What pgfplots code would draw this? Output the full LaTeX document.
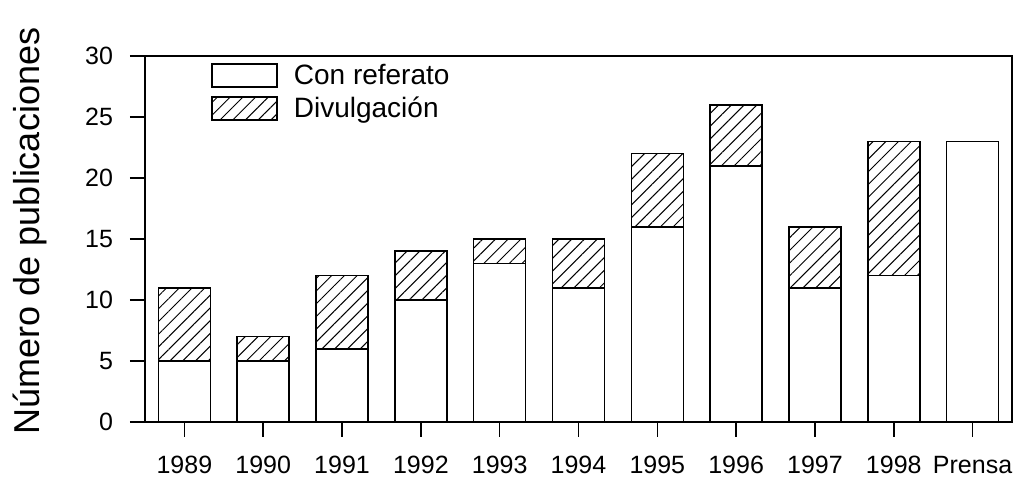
\documentclass[border=0pt]{standalone}
\usepackage{fontspec}
\setmainfont{Liberation Sans}
\usepackage{pgfplots}
\pgfplotsset{compat=1.18}
\usetikzlibrary{patterns.meta}

\begin{document}
\begin{tikzpicture}
\begin{axis}[
  at={(0,0)}, anchor=south west,
  scale only axis, width=433.5pt, height=183pt,
  ybar stacked, bar width=26pt,
  xmin=-0.5, xmax=10.5, ymin=0, ymax=30,
  xtick={0,1,2,3,4,5,6,7,8,9,10},
  xticklabels={1989,1990,1991,1992,1993,1994,1995,1996,1997,1998,Prensa},
  ytick={0,5,10,15,20,25,30},
  tick align=outside, major tick length=7.5pt,
  xtick pos=bottom, ytick pos=left,
  axis line style={line width=0.8pt},
  tick style={line width=0.8pt, black},
  ticklabel style={font=\fontsize{12.5}{14}\selectfont},
  xticklabel style={yshift=-6pt},
  yticklabel style={xshift=-5pt},
  /pgf/number format/assume math mode=true,
  ylabel={Número de publicaciones},
  ylabel style={font=\fontsize{18}{21}\selectfont, at={(axis description cs:-0.1326,0.522)}, anchor=center},
  legend style={draw=none, fill=none, at={(axis description cs:0.076,0.981)}, anchor=north west,
    font=\fontsize{14}{16}\selectfont, inner sep=0pt, nodes={inner sep=0pt}, column sep=8pt, row sep=4pt},
  legend cell align=left,
  legend image code/.code={\draw[#1] (0pt,-5.75pt) rectangle (32.5pt,5.75pt);},
]
% Con referato
\addplot[draw=black, fill=white, line width=0.8pt] coordinates {
  (0,5) (1,5) (2,6) (3,10) (4,13) (5,11) (6,16) (7,21) (8,11) (9,12) (10,23)
};
% Divulgacion
\addplot[draw=black, line width=0.8pt, pattern={Lines[angle=45,distance=4.5pt,line width=0.5pt]}, pattern color=black] coordinates {
  (0,6) (1,2) (2,6) (3,4) (4,2) (5,4) (6,6) (7,5) (8,5) (9,11) (10,0)
};
\legend{Con referato, Divulgación}
\end{axis}
\pgfresetboundingbox
\path[use as bounding box] (-72.5pt,-29pt) rectangle (436.5pt,211pt);
\end{tikzpicture}
\end{document}
